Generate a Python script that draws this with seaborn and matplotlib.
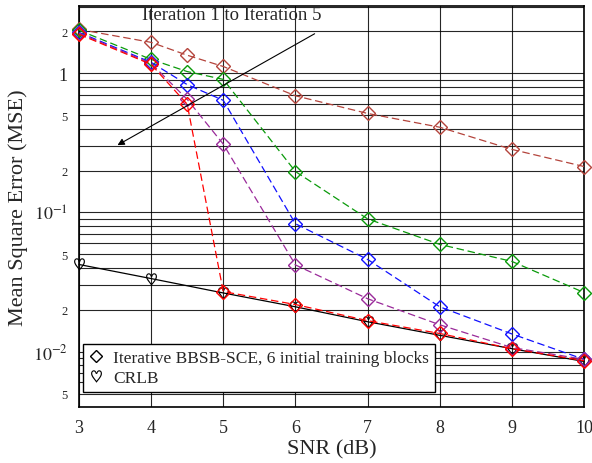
# MSE vs SNR for iterative BBSB-SCE with CRLB

import matplotlib
matplotlib.use("Agg")
import matplotlib.pyplot as plt
from matplotlib.lines import Line2D
from matplotlib.ticker import FixedLocator, NullFormatter
import seaborn as sns

# Data
snr = [3, 4, 4.5, 5, 6, 7, 8, 9, 10]
mse_iter1 = [2.07, 1.67, 1.35, 1.12, 0.69, 0.515, 0.41, 0.284, 0.214]
mse_iter2 = [2.04, 1.26, 1.03, 0.905, 0.197, 0.090, 0.059, 0.0445, 0.0266]
mse_iter3 = [1.97, 1.20, 0.83, 0.64, 0.083, 0.046, 0.021, 0.0134, 0.0088]
mse_iter4 = [1.94, 1.18, 0.65, 0.31, 0.042, 0.024, 0.0156, 0.0107, 0.0088]
mse_iter5 = [1.91, 1.16, 0.60, 0.027, 0.0218, 0.0167, 0.0135, 0.0105, 0.0086]
crlb_snr = [3, 4, 5, 6, 7, 8, 9, 10]
crlb = [0.0423, 0.0335, 0.0264, 0.0210, 0.0164, 0.0131, 0.0105, 0.0085]

iterations = [mse_iter1, mse_iter2, mse_iter3, mse_iter4, mse_iter5]
colors = ['#b4443c', '#0a9a0a', '#1010ff', '#9a2a9a', '#ff0000']

sns.set_style('white')
plt.rcParams['font.family'] = ['Liberation Serif', 'DejaVu Serif']
plt.rcParams['mathtext.fontset'] = 'stix'

fig = plt.figure(figsize=(5.92, 4.64), dpi=100)
ax = fig.add_axes([0.1334, 0.1207, 0.8531, 0.8643])

# CRLB first so the iteration markers sit on top
sns.lineplot(x=crlb_snr, y=crlb, ax=ax, color='k', lw=0.9,
             marker='$\\heartsuit$', markersize=9, markeredgewidth=0,
             markerfacecolor='k', markeredgecolor='k', clip_on=False, zorder=3)

for vals, c in zip(iterations, colors):
    sns.lineplot(x=snr, y=vals, ax=ax, color=c, lw=0.9,
                 linestyle=(0, (6, 3)), marker='D', markersize=7.5,
                 markerfacecolor='none', markeredgecolor=c, markeredgewidth=1.0,
                 clip_on=False, zorder=3)

ax.set_yscale('log')
ax.set_xlim(3, 10)
ax.set_ylim(0.004, 3.05)

ax.set_xticks(range(3, 11))
ax.set_xticklabels([str(v) for v in range(3, 11)], fontsize=13)

# labelled y ticks
ytick_vals = [0.005, 0.01, 0.02, 0.05, 0.1, 0.2, 0.5, 1, 2]
ytick_labels = ['5', '$10^{-2}$', '2', '5', '$10^{-1}$', '2', '5', '1', '2']
ytick_sizes = [9, 13, 9, 9, 13, 9, 9, 13, 9]
ax.set_yticks(ytick_vals)
ax.set_yticklabels(ytick_labels)
for lab, s in zip(ax.get_yticklabels(), ytick_sizes):
    lab.set_fontsize(s)

# gridlines at every 1..9 x decade
minor = [m * 10.0 ** e for e in (-3, -2, -1, 0) for m in range(1, 10)]
ax.yaxis.set_minor_locator(FixedLocator(minor))
ax.yaxis.set_minor_formatter(NullFormatter())
ax.grid(True, which='both', axis='y', color='k', lw=0.8, alpha=0.85)
ax.grid(True, which='major', axis='x', color='k', lw=0.8, alpha=0.85)
ax.tick_params(which='both', length=0)
ax.tick_params(axis='x', pad=9)
ax.tick_params(axis='y', pad=8)

for sp in ax.spines.values():
    sp.set_color('k')
    sp.set_linewidth(1.2)

ax.set_xlabel('SNR (dB)', fontsize=16, labelpad=2)
ax.set_ylabel('Mean Square Error (MSE)', fontsize=16)
ax.yaxis.set_label_coords(-0.10, 0.5)

# arrow + text
ax.annotate('', xy=(3.5, 0.298), xytext=(6.3, 1.97),
            arrowprops=dict(arrowstyle='-|>', color='k', lw=0.8, mutation_scale=10))
ax.text(3.87, 2.65, 'Iteration 1 to Iteration 5', fontsize=13.5, ha='left', va='center')

handles = [
    Line2D([], [], color='k', marker='D', markersize=6.5, markerfacecolor='none',
           linestyle='none', markeredgewidth=1.0),
    Line2D([], [], color='k', marker='$\\heartsuit$', markersize=9,
           markeredgewidth=0, linestyle='none'),
]
leg = ax.legend(handles, ['Iterative BBSB-SCE, 6 initial training blocks', 'CRLB'],
                loc='lower left', bbox_to_anchor=(0.008, 0.037), borderaxespad=0,
                fontsize=12.5, fancybox=False, framealpha=1, edgecolor='k',
                handlelength=0.8, handletextpad=0.6, labelspacing=0.2, borderpad=0.35)
leg.get_frame().set_linewidth(1.0)
leg.set_zorder(5)

fig.savefig('out.png', dpi=100)
